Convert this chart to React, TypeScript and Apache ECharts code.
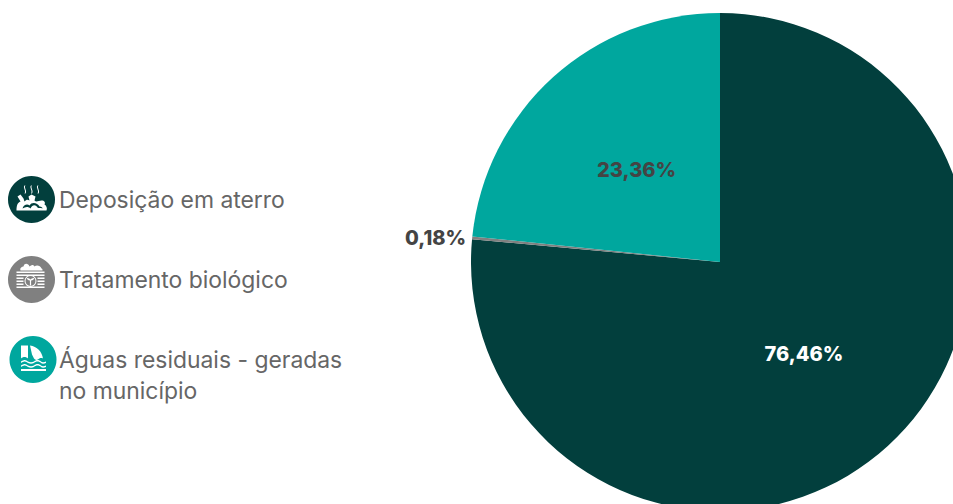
import React, { useEffect, useRef } from "react";
import * as echarts from "echarts";

const categories = ["Deposição em aterro", "Tratamento biológico", "Águas residuais - geradas\nno município"];
const values = [76.46, 0.18, 23.36];
const valueLabels = ["76,46%", "0,18%", "23,36%"];
const colors = ["#023F3D", "#808080", "#00A79E"];
const FONT = "Inter, 'Noto Sans', sans-serif";

const heap = "M-15 11 C-15 6 -14 3 -11 2 L-14 -3 L-11 -5 L-8 -1 L-7 2 C-5 0 -4 0 -2 1 L-3 -3 L0 -5 L4 -3 L3 1 C5 3 7 1 10 1 C13 1 14 3 13 5 C15 6 16 9 15 11 Z";
const heapInner = "M-9 9 C-8 5 -4 4 -2 6 C0 2 6 3 8 7 C10 7 11 8 11 9 C9 8 7 9 6 8 C4 5 1 5 -1 9 C-3 7 -6 7 -9 9 Z";
const steam = "M-7 -14 C-9 -12 -5 -9 -7 -6 L-6 -6 C-4 -9 -8 -12 -6 -14 Z M-0.5 -14 C-2.5 -12 1.5 -9 -0.5 -6 L0.5 -6 C2.5 -9 -1.5 -12 0.5 -14 Z M6 -14 C4 -12 8 -9 6 -6 L7 -6 C9 -9 5 -12 7 -14 Z";
const pile = "M-11 -9 C-12 -12 -9 -13 -8 -13 C-7 -17 -3 -16 -2 -13 C0 -15 2 -15 3 -13 C5 -15 9 -14 10 -11 C11 -11 11 -10 11 -9 Z";
const tank = "M-15 -8 H13 V-6.5 H-15 Z M-15 -5 H13 V-3.5 H-15 Z M-15 -2 H-8 V-0.5 H-15 Z M6 -2 H13 V-0.5 H6 Z M-15 1 H-8 V2.5 H-15 Z M6 1 H13 V2.5 H6 Z M-15 4 H-8 V5.5 H-15 Z M6 4 H13 V5.5 H6 Z M-15 7 H13 V8.5 H-15 Z";
const sprout = "M-7 1.5 A6 6 0 1 1 5 1.5 A6 6 0 1 1 -7 1.5 Z M-6 1.5 A5 5 0 1 0 4 1.5 A5 5 0 1 0 -6 1.5 Z M-1.6 1 V6 H-0.4 V1 C1.5 1 2.5 0 2.5 -1.5 C1 -1.5 0 -1 -1 0 C-2 -1 -3 -1.5 -4.5 -1.5 C-4.5 0 -3.5 1 -1.6 1 Z";
const ruin = "M-12 -14 H-5 V-1 C-7 -3 -10 -3 -12 -1 Z M-3 -14 C4 -13 9 -8 10 -1 C8 -2 6 -1 5 0 C3 1 2 0 1 -1 L-1 -5 Z";
const waves = "M-12 2 C-9 0 -7 0 -5 2 C-3 3 -1 3 1 2 C3 0 6 0 8 2 C9 3 11 3 13 2 V3.5 C11 4.5 9 4.5 8 3.5 C6 1.5 3 1.5 1 3.5 C-1 4.5 -3 4.5 -5 3.5 C-7 1.5 -9 1.5 -12 3.5 Z M-12 6 C-9 4 -7 4 -5 6 C-3 7 -1 7 1 6 C3 4 6 4 8 6 C9 7 11 7 13 6 V7.5 C11 8.5 9 8.5 8 7.5 C6 5.5 3 5.5 1 7.5 C-1 8.5 -3 8.5 -5 7.5 C-7 5.5 -9 5.5 -12 7.5 Z M-12 9.5 H13 V11.5 H-12 Z";

const reg: Record<string, string> = { heap, heapInner, steam, pile, tank, sprout, ruin, waves };
Object.keys(reg).forEach((k) => {
  echarts.graphic.registerShape("ic_" + k, echarts.graphic.extendPath(reg[k], {}) as any);
});

function icon(x: number, y: number, color: string, shapes: [string, string][]) {
  return {
    type: "group",
    x,
    y,
    silent: true,
    children: [
      { type: "circle", shape: { cx: 0, cy: 0, r: 23.5 }, style: { fill: color } },
      ...shapes.map(([s, fill]) => ({ type: "ic_" + s, style: { fill } })),
    ],
  };
}

function legendText(text: string, y: number) {
  return {
    type: "text",
    x: 59,
    y,
    silent: true,
    style: { text, fill: "#666666", font: `400 22.9px ${FONT}`, lineHeight: 31, textVerticalAlign: "middle" },
  };
}

export default function App() {
  const ref = useRef<HTMLDivElement>(null);
  useEffect(() => {
    document.body.style.margin = "0";
    const chart = echarts.init(ref.current!, undefined, { renderer: "svg" });
    chart.setOption({
      animation: false,
      backgroundColor: "#fff",
      graphic: [
        icon(31.5, 199.5, colors[0], [["heap", "#fff"], ["heapInner", colors[0]], ["steam", "#fff"]]),
        icon(31.5, 279.5, colors[1], [["pile", "#fff"], ["tank", "#fff"], ["sprout", "#fff"]]),
        icon(33, 359.5, colors[2], [["ruin", "#fff"], ["waves", "#fff"]]),
        legendText(categories[0], 200),
        legendText(categories[1], 280),
        legendText(categories[2], 375),
      ],
      series: [
        {
          type: "pie",
          center: [720, 262],
          radius: [0, 249],
          startAngle: 90,
          clockwise: true,
          silent: true,
          data: values.map((value, i) => ({
            name: categories[i],
            value,
            itemStyle: { color: colors[i] },
            label:
              i === 1
                ? { position: "outside", color: "#444", distanceToLabelLine: 6 }
                : { position: "inside", color: i === 0 ? "#fff" : "#444", offset: i === 0 ? [-2, -2] : [2, 3] },
            labelLine: { show: false, length: 0, length2: 0 },
          })),
          label: {
            formatter: (p: any) => valueLabels[p.dataIndex],
            fontFamily: FONT,
            fontWeight: 800,
            fontSize: 20,
          },
        },
      ],
    });
    return () => chart.dispose();
  }, []);
  return <div ref={ref} style={{ width: 953, height: 504 }} />;
}
